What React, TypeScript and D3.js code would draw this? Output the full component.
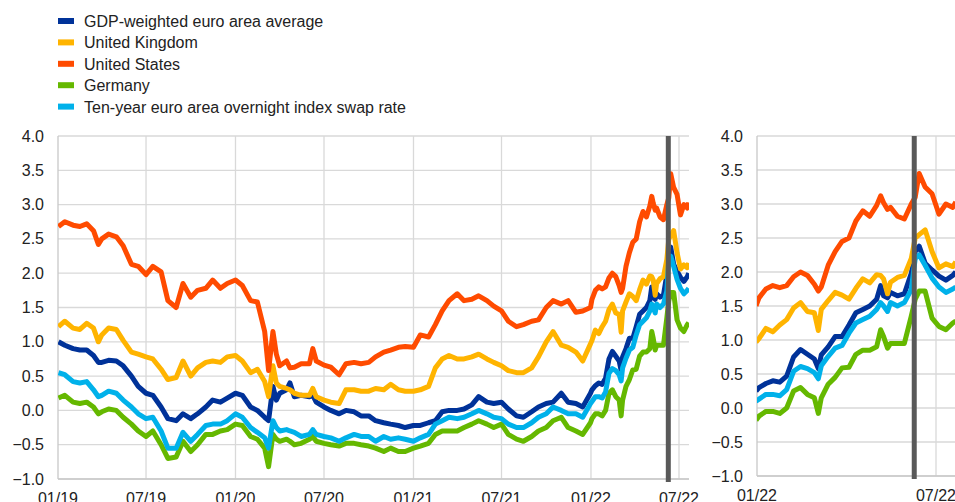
import React from 'react';
import * as d3 from 'd3';

// observation dates (semi-monthly to 2021, weekly in 2022)
const dates = [
  '2019-01-02', '2019-01-15', '2019-02-01', '2019-02-15', '2019-03-01', '2019-03-15', '2019-03-25', '2019-04-01', '2019-04-15', '2019-05-01', '2019-05-15', '2019-06-01', '2019-06-15', '2019-07-01', '2019-07-15', '2019-08-01', '2019-08-15', '2019-09-01', '2019-09-15', '2019-10-01', '2019-10-15', '2019-11-01', '2019-11-15', '2019-12-01', '2019-12-15',
  '2020-01-01', '2020-01-15', '2020-02-01', '2020-02-15', '2020-03-01', '2020-03-09', '2020-03-18', '2020-03-25', '2020-04-01', '2020-04-15', '2020-04-22', '2020-05-01', '2020-05-15', '2020-06-01', '2020-06-08', '2020-06-15', '2020-07-01', '2020-07-15', '2020-08-01', '2020-08-15', '2020-09-01', '2020-09-15', '2020-10-01', '2020-10-15', '2020-11-01', '2020-11-15', '2020-12-01', '2020-12-15',
  '2021-01-01', '2021-01-15', '2021-02-01', '2021-02-15', '2021-03-01', '2021-03-15', '2021-04-01', '2021-04-15', '2021-05-01', '2021-05-15', '2021-06-01', '2021-06-15', '2021-07-01', '2021-07-15', '2021-08-01', '2021-08-15', '2021-09-01', '2021-09-15', '2021-10-01', '2021-10-15', '2021-11-01', '2021-11-15', '2021-12-01', '2021-12-15', '2021-12-31',
  '2022-01-03', '2022-01-10', '2022-01-17', '2022-01-24', '2022-01-31', '2022-02-07', '2022-02-14', '2022-02-21', '2022-02-28', '2022-03-04', '2022-03-07', '2022-03-14', '2022-03-21', '2022-03-28', '2022-04-04', '2022-04-11', '2022-04-18', '2022-04-25', '2022-05-02', '2022-05-06', '2022-05-09', '2022-05-13', '2022-05-16', '2022-05-23', '2022-05-30', '2022-06-06', '2022-06-10', '2022-06-14', '2022-06-20', '2022-06-27', '2022-07-04', '2022-07-11', '2022-07-18', '2022-07-21',
];

const euroArea = [
  1.00, 0.95, 0.90, 0.88, 0.88, 0.80, 0.70, 0.70, 0.73, 0.72, 0.65, 0.50, 0.35, 0.25, 0.22, 0.05, -0.12, -0.15, -0.05, -0.12, -0.05, 0.05, 0.15, 0.12, 0.18,
  0.25, 0.22, 0.05, 0.00, -0.10, -0.15, 0.35, 0.15, 0.25, 0.30, 0.40, 0.20, 0.22, 0.20, 0.22, 0.12, 0.05, 0.00, -0.05, 0.00, -0.02, -0.08, -0.08, -0.15, -0.18, -0.20, -0.22, -0.25,
  -0.22, -0.22, -0.18, -0.15, -0.02, 0.00, 0.00, 0.02, 0.08, 0.20, 0.12, 0.10, 0.12, 0.02, -0.08, -0.10, -0.02, 0.05, 0.10, 0.12, 0.25, 0.12, 0.10, 0.05, 0.25,
  0.30, 0.36, 0.40, 0.38, 0.47, 0.75, 0.86, 0.79, 0.72, 0.58, 0.78, 0.90, 1.05, 1.05, 1.22, 1.40, 1.45, 1.50, 1.60, 1.80, 1.65, 1.62, 1.70, 1.65, 1.68, 1.98, 2.30, 2.38, 2.13, 2.03, 1.94, 1.88, 1.95, 2.00,
];

const unitedKingdom = [
  1.22, 1.30, 1.20, 1.18, 1.27, 1.20, 1.00, 1.10, 1.20, 1.18, 1.02, 0.85, 0.82, 0.78, 0.75, 0.60, 0.45, 0.48, 0.72, 0.50, 0.62, 0.70, 0.72, 0.70, 0.78,
  0.80, 0.72, 0.55, 0.60, 0.42, 0.20, 0.65, 0.40, 0.35, 0.32, 0.30, 0.25, 0.22, 0.22, 0.32, 0.20, 0.15, 0.12, 0.10, 0.30, 0.30, 0.28, 0.28, 0.32, 0.30, 0.38, 0.30, 0.28,
  0.28, 0.30, 0.35, 0.62, 0.75, 0.80, 0.75, 0.75, 0.78, 0.82, 0.75, 0.70, 0.65, 0.58, 0.55, 0.55, 0.62, 0.78, 1.00, 1.15, 0.95, 0.92, 0.85, 0.72, 0.97,
  1.02, 1.17, 1.12, 1.22, 1.30, 1.47, 1.55, 1.42, 1.40, 1.14, 1.45, 1.58, 1.70, 1.66, 1.60, 1.76, 1.90, 1.84, 1.96, 1.95, 1.90, 1.68, 1.85, 1.92, 1.95, 2.20, 2.50, 2.55, 2.62, 2.30, 2.06, 2.12, 2.08, 2.15,
];

const unitedStates = [
  2.68, 2.75, 2.70, 2.68, 2.72, 2.62, 2.42, 2.50, 2.57, 2.53, 2.40, 2.13, 2.10, 1.98, 2.10, 2.02, 1.60, 1.50, 1.85, 1.65, 1.75, 1.78, 1.90, 1.78, 1.85,
  1.90, 1.82, 1.60, 1.58, 1.15, 0.58, 1.15, 0.82, 0.65, 0.72, 0.62, 0.63, 0.68, 0.68, 0.90, 0.72, 0.66, 0.63, 0.52, 0.68, 0.70, 0.68, 0.70, 0.78, 0.85, 0.88, 0.92, 0.93,
  0.92, 1.10, 1.07, 1.25, 1.45, 1.60, 1.70, 1.60, 1.62, 1.67, 1.60, 1.52, 1.45, 1.30, 1.22, 1.25, 1.30, 1.32, 1.50, 1.60, 1.55, 1.60, 1.43, 1.45, 1.50,
  1.62, 1.75, 1.80, 1.77, 1.80, 1.93, 2.00, 1.95, 1.82, 1.72, 1.78, 2.10, 2.30, 2.45, 2.50, 2.75, 2.90, 2.82, 2.98, 3.12, 3.02, 2.92, 2.95, 2.82, 2.78, 3.00, 3.10, 3.45, 3.25, 3.15, 2.85, 3.00, 2.95, 3.03,
];

const germany = [
  0.18, 0.22, 0.12, 0.10, 0.12, 0.05, -0.05, -0.02, 0.02, 0.00, -0.10, -0.20, -0.30, -0.38, -0.30, -0.50, -0.70, -0.68, -0.45, -0.60, -0.50, -0.35, -0.35, -0.30, -0.28,
  -0.20, -0.22, -0.38, -0.42, -0.55, -0.82, -0.35, -0.42, -0.45, -0.42, -0.45, -0.50, -0.48, -0.42, -0.38, -0.45, -0.48, -0.50, -0.52, -0.48, -0.48, -0.50, -0.52, -0.55, -0.60, -0.55, -0.60, -0.60,
  -0.55, -0.52, -0.48, -0.35, -0.30, -0.30, -0.30, -0.25, -0.20, -0.15, -0.20, -0.25, -0.20, -0.35, -0.42, -0.45, -0.38, -0.30, -0.25, -0.15, -0.10, -0.25, -0.30, -0.35, -0.18,
  -0.12, -0.05, -0.05, -0.08, 0.00, 0.25, 0.30, 0.20, 0.15, -0.08, 0.15, 0.35, 0.45, 0.59, 0.60, 0.79, 0.85, 0.85, 0.90, 1.15, 1.05, 0.88, 0.95, 0.95, 0.95, 1.35, 1.60, 1.72, 1.72, 1.32, 1.20, 1.15, 1.25, 1.28,
];

const oisRate = [
  0.55, 0.52, 0.42, 0.40, 0.42, 0.30, 0.20, 0.22, 0.28, 0.25, 0.15, 0.05, -0.05, -0.12, -0.10, -0.30, -0.55, -0.55, -0.32, -0.45, -0.35, -0.22, -0.20, -0.20, -0.15,
  -0.05, -0.10, -0.25, -0.32, -0.40, -0.55, -0.15, -0.25, -0.30, -0.28, -0.30, -0.32, -0.38, -0.35, -0.28, -0.35, -0.38, -0.40, -0.45, -0.40, -0.35, -0.38, -0.38, -0.45, -0.38, -0.42, -0.40, -0.42,
  -0.45, -0.40, -0.35, -0.20, -0.15, -0.10, -0.12, -0.10, -0.05, 0.00, -0.05, -0.10, -0.12, -0.20, -0.25, -0.25, -0.18, -0.10, -0.05, 0.05, 0.00, -0.05, -0.05, -0.10, 0.10,
  0.13, 0.20, 0.20, 0.18, 0.27, 0.54, 0.61, 0.58, 0.52, 0.43, 0.62, 0.76, 0.88, 0.92, 1.10, 1.25, 1.30, 1.35, 1.45, 1.55, 1.50, 1.42, 1.55, 1.50, 1.55, 1.74, 2.20, 2.25, 2.10, 1.91, 1.78, 1.70, 1.75, 1.78,
];

const seriesNames = [
  'GDP-weighted euro area average',
  'United Kingdom',
  'United States',
  'Germany',
  'Ten-year euro area overnight index swap rate',
];
const seriesColors = ['#003299', '#ffb400', '#ff4b00', '#65b800', '#00b1ea'];
const seriesValues = [euroArea, unitedKingdom, unitedStates, germany, oisRate];

const leftTicks = ['2019-01-01', '2019-07-01', '2020-01-01', '2020-07-01', '2021-01-01', '2021-07-01', '2022-01-01', '2022-07-01'];
const rightTicks = ['2022-01-01', '2022-07-01'];
const yTicks = [-1, -0.5, 0, 0.5, 1, 1.5, 2, 2.5, 3, 3.5, 4];
const markerDate = '2022-06-09';

const parse = d3.timeParse('%Y-%m-%d');
const fmtDate = d3.timeFormat('%m/%y');
const fmtY = d3.format('.1f');
const FONT = '"Liberation Sans", Arial, sans-serif';

type Panel = {
  x: d3.ScaleTime<number, number>;
  y: d3.ScaleLinear<number, number>;
  left: number;
  right: number;
  ticks: string[];
  from: Date;
  id: string;
};

const ChartPanel = ({ p }: { p: Panel }) => {
  const [y0, y1] = p.y.range();
  const rows = dates
    .map((d, i) => ({ date: parse(d) as Date, i }))
    .filter((r) => r.date >= p.from);
  const marker = p.x(parse(markerDate) as Date);
  return (
    <g>
      <defs>
        <clipPath id={p.id}>
          <rect x={p.left} y={0} width={p.right - p.left} height={502} />
        </clipPath>
      </defs>
      {yTicks.map((t) => (
        <g key={t}>
          <line x1={p.left} x2={p.right} y1={p.y(t)} y2={p.y(t)} stroke="#d9d9d9" strokeWidth={1.3} />
          <text x={p.left - 14} y={p.y(t) + 5.5} textAnchor="end" fontSize={16} fontFamily={FONT} fill="#222">
            {fmtY(t)}
          </text>
        </g>
      ))}
      {p.ticks.map((t, k) => {
        const xv = p.x(parse(t) as Date);
        return (
          <g key={t}>
            {k > 0 && <line x1={xv} x2={xv} y1={y1} y2={y0} stroke="#d9d9d9" strokeWidth={1.3} />}
            <text x={xv} y={y0 + 25} textAnchor="middle" fontSize={16} fontFamily={FONT} fill="#222">
              {fmtDate(parse(t) as Date)}
            </text>
          </g>
        );
      })}
      <line x1={p.left} x2={p.left} y1={y1} y2={y0} stroke="#c8c8c8" strokeWidth={1.3} />
      <line x1={p.left} x2={p.right} y1={y0} y2={y0} stroke="#c8c8c8" strokeWidth={1.3} />
      <g clipPath={`url(#${p.id})`}>
        {seriesValues.map((vals, s) => {
          const line = d3
            .line<{ date: Date; i: number }>()
            .x((r) => p.x(r.date))
            .y((r) => p.y(vals[r.i]));
          return (
            <path key={s} d={line(rows) || ''} fill="none" stroke={seriesColors[s]} strokeWidth={5} strokeLinejoin="round" />
          );
        })}
      </g>
      <line x1={marker} x2={marker} y1={y1} y2={y0 + 3} stroke="#595959" strokeWidth={5} />
    </g>
  );
};

export default function App() {
  const leftPanel: Panel = {
    x: d3.scaleTime().domain([parse('2019-01-01') as Date, parse('2022-07-01') as Date]).range([58, 679]),
    y: d3.scaleLinear().domain([-1, 4]).range([479, 136]),
    left: 58,
    right: 689,
    ticks: leftTicks,
    from: parse('2019-01-01') as Date,
    id: 'clipLeft',
  };
  const rightPanel: Panel = {
    x: d3.scaleTime().domain([parse('2022-01-01') as Date, parse('2022-07-01') as Date]).range([757, 936]),
    y: d3.scaleLinear().domain([-1, 4]).range([476, 136]),
    left: 757,
    right: 990,
    ticks: rightTicks,
    from: parse('2021-12-31') as Date,
    id: 'clipRight',
  };

  return (
    <svg width={955} height={502} style={{ position: 'absolute', left: 0, top: 0, background: '#fff' }}>
      <g>
        {seriesNames.map((name, i) => (
          <g key={name} transform={`translate(58, ${21 + i * 21.4})`}>
            <rect x={0} y={-3} width={16} height={6} fill={seriesColors[i]} />
            <text x={26} y={6} fontSize={16} fontFamily={FONT} fill="#222">
              {name}
            </text>
          </g>
        ))}
      </g>
      <ChartPanel p={leftPanel} />
      <ChartPanel p={rightPanel} />
    </svg>
  );
}
